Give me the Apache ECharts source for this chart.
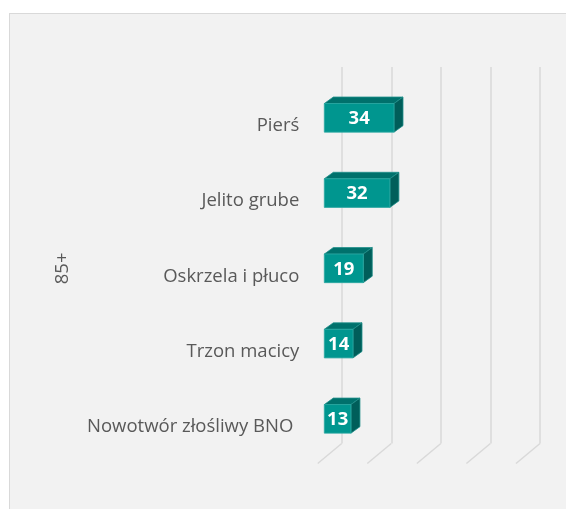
<!DOCTYPE html>
<html>
<head>
<meta charset="utf-8">
<script src="https://cdn.jsdelivr.net/npm/echarts@6/dist/echarts.min.js"></script>
<style>
html,body{margin:0;padding:0;background:#ffffff;}
#box{position:absolute;left:9px;top:13px;width:600px;height:600px;background:#f2f2f2;border:1px solid #d9d9d9;}
#chart{position:absolute;left:0;top:0;width:566px;height:509px;}
</style>
</head>
<body>
<div id="box"></div>
<div id="chart"></div>
<script>
const categories = ['Pierś', 'Jelito grube', 'Oskrzela i płuco', 'Trzon macicy', 'Nowotwór złośliwy BNO'];
const values = [34, 32, 19, 14, 13];
const groupLabel = '85+';
const gridTicks = [0, 25, 50, 75, 100];

const FONT = '"Open Sans", sans-serif';
const chart = echarts.init(document.getElementById('chart'), null, {renderer: 'canvas'});

const DX = 9, DY = -6.5;

function renderBar(params, api) {
  const c = api.value(1);
  const v = api.value(0);
  const p0 = api.coord([0, c]);
  const p1 = api.coord([v, c]);
  const h = api.size([0, 1])[1] * 0.38;
  const x0 = p0[0], x1 = p1[0], yc = p1[1];
  const yt = yc - h / 2, yb = yc + h / 2;
  return {
    type: 'group',
    children: [
      {type: 'polygon', shape: {points: [[x0, yt], [x1, yt], [x1 + DX, yt + DY], [x0 + DX, yt + DY]]},
       style: {fill: '#00716c', stroke: '#1f8f8a', lineWidth: 0.8}},
      {type: 'polygon', shape: {points: [[x1, yt], [x1 + DX, yt + DY], [x1 + DX, yb + DY], [x1, yb]]},
       style: {fill: '#005e5a', stroke: '#1f8f8a', lineWidth: 0.8}},
      {type: 'rect', shape: {x: x0, y: yt, width: x1 - x0, height: h},
       style: {fill: '#00968f', stroke: '#2aa8a2', lineWidth: 0.8}},
      {type: 'text', x: (x0 + x1) / 2, y: yc + 1,
       style: {text: String(v), fill: '#ffffff', font: 'bold 18.5px ' + FONT, align: 'center', verticalAlign: 'middle'}}
    ]
  };
}

function renderFloor(params, api) {
  const p = api.coord([api.value(0), 0]);
  return {
    type: 'line',
    shape: {x1: p[0], y1: p[1], x2: p[0] - 24, y2: p[1] + 20},
    style: {stroke: '#d9d9d9', lineWidth: 1.5}
  };
}

const option = {
  animation: false,
  backgroundColor: 'transparent',
  grid: [
    {left: 341.7, right: 26, top: 67, bottom: 65.5, containLabel: false},
    {left: 324.3, right: 36.7, top: 80.2, bottom: 52.5, containLabel: false}
  ],
  xAxis: [
    {gridIndex: 0, type: 'value', min: 0, max: 100, interval: 25,
     axisLine: {show: false}, axisTick: {show: false}, axisLabel: {show: false},
     splitLine: {show: true, lineStyle: {color: '#d9d9d9', width: 1.5}}},
    {gridIndex: 1, type: 'value', min: 0, max: 100, interval: 25,
     axisLine: {show: false}, axisTick: {show: false}, axisLabel: {show: false},
     splitLine: {show: false}}
  ],
  yAxis: [
    {gridIndex: 0, type: 'value', min: 0, max: 1, show: false},
    {gridIndex: 1, type: 'category', data: categories, inverse: true,
     axisLine: {show: false}, axisTick: {show: false},
     axisLabel: {
       margin: 25, color: '#595959', fontSize: 18.5, fontFamily: FONT, padding: [16, 0, 0, 0],
       formatter: function (val, idx) { return idx === categories.length - 1 ? '{s|' + val + '}' : val; },
       rich: {s: {color: '#595959', fontSize: 18.5, fontFamily: FONT, padding: [0, 6, 0, 0]}}
     },
     name: groupLabel, nameLocation: 'middle', nameRotate: 90, nameGap: 252,
     nameTextStyle: {color: '#595959', fontSize: 18.5, fontFamily: FONT}}
  ],
  series: [
    {type: 'custom', xAxisIndex: 0, yAxisIndex: 0, renderItem: renderFloor,
     data: gridTicks.map(t => [t, 0]), silent: true, z: 1},
    {type: 'custom', xAxisIndex: 1, yAxisIndex: 1, renderItem: renderBar,
     encode: {x: 0, y: 1},
     data: values.map((v, i) => [v, i]), z: 3}
  ]
};
chart.setOption(option);
</script>
</body>
</html>
